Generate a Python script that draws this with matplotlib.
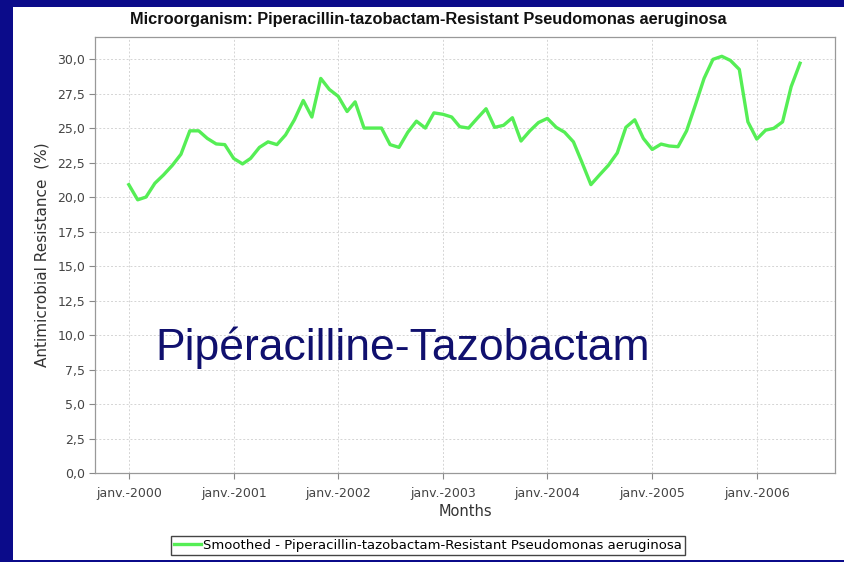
import matplotlib
matplotlib.use("Agg")
import matplotlib.pyplot as plt
from matplotlib.patches import Rectangle
import pandas as pd

# monthly smoothed resistance (%), Jan 2000 .. Jun 2006
resistance = [
    20.9, 19.8, 20.0, 21.0, 21.6, 22.3, 23.1, 24.8, 24.8, 24.25, 23.85, 23.8,
    22.8, 22.4, 22.8, 23.6, 24.0, 23.8, 24.5, 25.6, 27.0, 25.8, 28.6, 27.8,
    27.3, 26.2, 26.9, 25.0, 25.0, 25.0, 23.8, 23.6, 24.7, 25.5, 25.0, 26.1,
    26.0, 25.8, 25.1, 25.0, 25.7, 26.4, 25.05, 25.2, 25.75, 24.06, 24.8, 25.4,
    25.7, 25.05, 24.7, 24.0, 22.5, 20.9, 21.6, 22.3, 23.2, 25.05, 25.6, 24.25,
    23.45, 23.84, 23.7, 23.65, 24.8, 26.7, 28.6, 29.98, 30.2, 29.9, 29.25, 25.45,
    24.2, 24.85, 24.98, 25.45, 28.0, 29.7,
]
months = pd.date_range("2000-01-01", periods=len(resistance), freq="MS")
tick_years = [2000, 2001, 2002, 2003, 2004, 2005, 2006]
y_ticks = [0.0, 2.5, 5.0, 7.5, 10.0, 12.5, 15.0, 17.5, 20.0, 22.5, 25.0, 27.5, 30.0]

title = "Microorganism: Piperacillin-tazobactam-Resistant Pseudomonas aeruginosa"
series_label = "Smoothed - Piperacillin-tazobactam-Resistant Pseudomonas aeruginosa"
overlay = "Pipéracilline-Tazobactam"

W, H = 844, 562
navy = "#0b0b8a"
green = "#55ee55"
tick_grey = "#444444"

fig = plt.figure(figsize=(W / 100, H / 100), dpi=100, facecolor=navy)
fig.patches.append(Rectangle((13 / W, 2 / H), 1 - 13 / W, 1 - 9 / H,
                             transform=fig.transFigure, facecolor="white",
                             edgecolor="none", zorder=-5))

ax = fig.add_axes([95 / W, 1 - 473 / H, (835 - 95) / W, (473 - 37) / H])
ax.set_zorder(1)
ax.plot(months, resistance, color=green, linewidth=2.4, label=series_label,
        solid_joinstyle="round")

ax.set_xlim(pd.Timestamp("1999-09-05"), pd.Timestamp("2006-10-01"))
ax.set_ylim(0, 31.6)
ax.set_yticks(y_ticks)
ax.set_yticklabels([f"{v:.1f}".replace(".", ",") for v in y_ticks])
ax.set_xticks([pd.Timestamp(f"{y}-01-01") for y in tick_years])
ax.set_xticklabels([f"janv.-{y}" for y in tick_years])

ax.grid(True, color="#d4d4d4", linestyle=(0, (2, 2)), linewidth=0.7)
ax.set_axisbelow(True)
for spine in ax.spines.values():
    spine.set_color("#999999")
    spine.set_linewidth(0.9)
ax.tick_params(axis="both", colors="#888888", length=4, width=0.8,
               labelcolor=tick_grey, labelsize=9)
ax.tick_params(axis="x", pad=6)
ax.tick_params(axis="y", pad=3)

ax.set_xlabel("Months", fontsize=10.5, color="#333333", labelpad=3)
ax.set_ylabel("Antimicrobial Resistance  (%)", fontsize=11, color="#333333",
              labelpad=6)

fig.text(428 / W, 1 - 24 / H, title, ha="center", va="baseline",
         fontsize=11.8, fontweight="bold", family="Liberation Sans",
         color="#111111")

fig.text(155 / W, 1 - 360 / H, overlay, ha="left", va="baseline",
         fontsize=32, family="Liberation Sans", color="#10106e", zorder=5)

fig.legend(loc="center", bbox_to_anchor=(428 / W, 1 - 545.5 / H),
           fontsize=9.5, frameon=True, fancybox=False, edgecolor="#444444",
           framealpha=1, handlelength=2.0, handletextpad=0.15,
           borderpad=0.25, borderaxespad=0)

fig.savefig("out.png", dpi=100, facecolor=navy)
